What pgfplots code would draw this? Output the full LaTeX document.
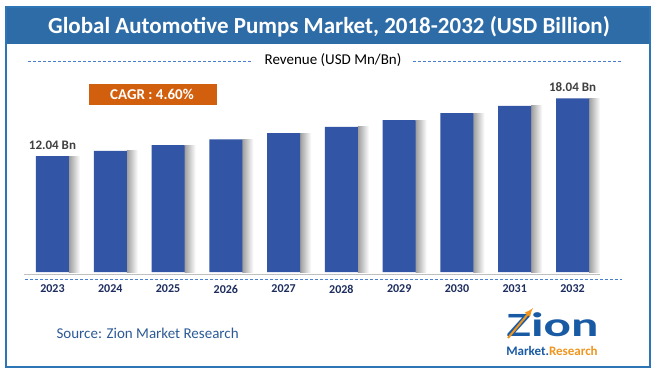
\documentclass[border=0pt]{standalone}
\usepackage{pgfplots}
\pgfplotsset{compat=1.18}
\usepackage{fontspec}
\setmainfont{Carlito}
\definecolor{framecol}{RGB}{46,117,182}
\definecolor{titlecol}{RGB}{46,108,168}
\definecolor{barcol}{RGB}{50,86,165}
\definecolor{cagrcol}{RGB}{210,95,14}
\definecolor{yearcol}{RGB}{30,45,95}
\definecolor{dashcol}{RGB}{70,125,205}
\definecolor{srccol}{RGB}{45,90,150}
\definecolor{logoblue}{RGB}{25,90,165}
\definecolor{logoorange}{RGB}{240,150,30}
\definecolor{lblcol}{RGB}{64,64,64}
\begin{document}
\begin{tikzpicture}[x=1pt,y=1pt]
\path[use as bounding box, fill=white] (0,0) rectangle (658,376);
\fill[titlecol] (6,332) rectangle (650,369);
\draw[framecol, line width=2.5pt] (6,9) rectangle (650,369);
\node[white, font=\bfseries\fontsize{23}{28}\selectfont] at (329,349.5) {Global Automotive Pumps Market, 2018-2032 (USD Billion)};
\node[font=\fontsize{15}{17}\selectfont] at (333,316) {Revenue (USD Mn/Bn)};
\draw[dashcol, line width=0.9pt, dash pattern=on 3pt off 2pt] (28,315) -- (252,315);
\draw[dashcol, line width=0.9pt, dash pattern=on 3pt off 2pt] (413,315) -- (622,315);
\fill[cagrcol] (89,271) rectangle (217,292);
\node[white, font=\bfseries\fontsize{15}{17}\selectfont] at (152,281.5) {CAGR : 4.60\%};
\begin{axis}[
  at={(23.6pt,104pt)}, anchor=south west,
  scale only axis, width=577.8pt, height=192.6pt,
  xmin=-0.5, xmax=9.5, ymin=0, ymax=20,
  axis line style={draw=none},
  ytick=\empty,
  xtick={0,...,9},
  xticklabels={2023,2024,2025,2026,2027,2028,2029,2030,2031,2032},
  major tick length=0pt,
  xticklabel style={anchor=center, yshift=-17pt, text=yearcol, font=\bfseries\fontsize{12}{14}\selectfont},
  clip=false,
  shadow/.style={ybar, bar width=11pt, bar shift=22pt, draw=none, left color=black!38, right color=white},
]
\addplot[shadow] coordinates {(0,12.04)};
\addplot[shadow] coordinates {(1,12.59)};
\addplot[shadow] coordinates {(2,13.17)};
\addplot[shadow] coordinates {(3,13.78)};
\addplot[shadow] coordinates {(4,14.42)};
\addplot[shadow] coordinates {(5,15.08)};
\addplot[shadow] coordinates {(6,15.77)};
\addplot[shadow] coordinates {(7,16.50)};
\addplot[shadow] coordinates {(8,17.26)};
\addplot[shadow] coordinates {(9,18.04)};
\addplot[ybar, bar width=33pt, bar shift=0pt, draw=none, fill=barcol]
  coordinates {(0,12.04) (1,12.59) (2,13.17) (3,13.78) (4,14.42) (5,15.08) (6,15.77) (7,16.50) (8,17.26) (9,18.04)};
\addplot[only marks, mark=none, point meta=explicit symbolic, nodes near coords,
  nodes near coords style={anchor=center, yshift=11pt, text=lblcol, font=\bfseries\fontsize{13}{15}\selectfont}]
  coordinates {(0,12.04) [12.04 Bn] (9,18.04) [18.04 Bn]};
\end{axis}
\draw[black!25, line width=0.8pt] (24,102) -- (600,102);
\draw[dashcol, line width=0.9pt, dash pattern=on 3pt off 2pt] (25,96.5) -- (622,96.5);
\node[anchor=west, srccol, font=\fontsize{15}{18}\selectfont] at (53,43) {Source: Zion Market Research};
\node[logoblue, font=\bfseries\fontsize{34}{36}\selectfont] at (552.5,51) {\scalebox{1.5}[1]{Zion}};
\draw[logoorange, line width=2pt, -latex] (508,38) -- (533,68);
\node[font=\bfseries\fontsize{13}{15}\selectfont] at (552,25) {\textcolor{logoblue}{Market.}\textcolor{logoorange}{Research}};
\end{tikzpicture}
\end{document}
